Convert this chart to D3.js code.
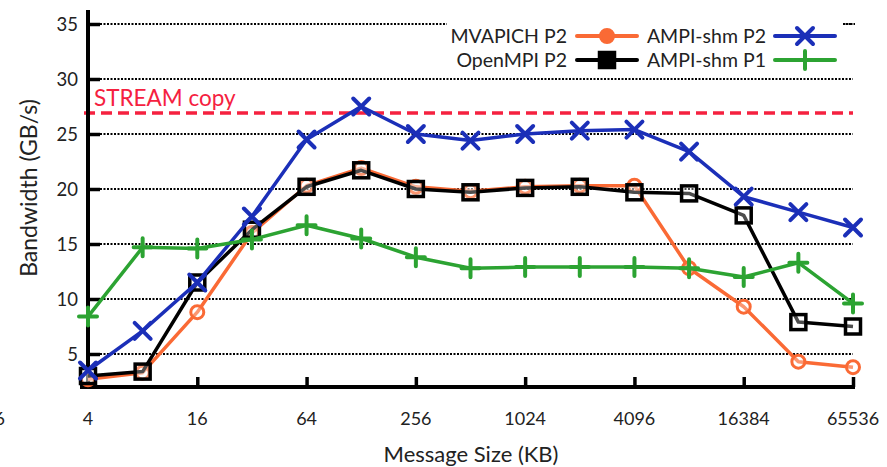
<!DOCTYPE html>
<html><head><meta charset="utf-8">
<script src="https://cdn.jsdelivr.net/npm/d3@7"></script>
<style>body{margin:0;background:#fff;} svg{display:block;font-family:Lato, "Open Sans", sans-serif;}</style>
</head><body>
<svg id="c" width="887" height="467"></svg>
<script>
const sizes = [4,8,16,32,64,128,256,512,1024,2048,4096,8192,16384,32768,65536];
const xTicks = [4,16,64,256,1024,4096,16384,65536];
const yTicks = [5,10,15,20,25,30,35];
const mvapichP2 = [2.7,3.3,8.8,16.0,20.3,21.9,20.2,19.8,20.2,20.3,20.3,12.8,9.3,4.3,3.8];
const openmpiP2 = [3.0,3.4,11.5,16.3,20.2,21.7,20.0,19.7,20.1,20.2,19.7,19.6,17.6,7.9,7.5];
const ampiP2 = [3.5,7.1,11.5,17.5,24.5,27.5,25.0,24.4,25.0,25.3,25.4,23.4,19.3,17.9,16.5];
const ampiP1 = [8.4,14.7,14.6,15.4,16.7,15.5,13.8,12.8,12.9,12.9,12.9,12.8,12.0,13.3,9.6];
const streamCopy = 26.9;

const svg = d3.select("#c");
const x = d3.scaleLog().base(2).domain([4,65536]).range([88,853]);
const y = d3.scaleLinear().domain([0,35]).range([409,24]);
const yBottom = 387, yTop = 10;

// grid
svg.append("g").selectAll("line").data(yTicks).join("line")
  .attr("x1",100).attr("x2",853).attr("y1",d=>y(d)).attr("y2",d=>y(d))
  .attr("stroke","#000").attr("stroke-width",2).attr("stroke-dasharray","2,1.5");

// stream copy line
svg.append("line").attr("x1",84).attr("x2",853).attr("y1",y(streamCopy)).attr("y2",y(streamCopy))
  .attr("stroke","#f5213f").attr("stroke-width",3.5).attr("stroke-dasharray","11,6");
svg.append("text").attr("x",94).attr("y",y(streamCopy)-7).text("STREAM copy")
  .attr("fill","#f5213f").attr("font-size",22.5);

// axes
const yAxis = svg.append("g").attr("transform","translate(88,0)")
  .call(d3.axisRight(y).tickValues(yTicks).tickSize(12).tickFormat(""));
yAxis.select(".domain").remove();
yAxis.selectAll("line").attr("stroke","#000").attr("stroke-width",3.5);
svg.append("g").selectAll("text").data(yTicks).join("text")
  .attr("x",78).attr("y",d=>y(d)+6.5).attr("text-anchor","end").attr("font-size",18.5).attr("fill","#222").text(d=>d);
svg.append("line").attr("x1",88).attr("x2",88).attr("y1",yTop).attr("y2",yBottom+2).attr("stroke","#000").attr("stroke-width",4);

const xAxis = svg.append("g").attr("transform",`translate(0,${yBottom})`)
  .call(d3.axisTop(x).tickValues(xTicks.slice(1)).tickSize(10).tickFormat(""));
xAxis.select(".domain").remove();
xAxis.selectAll("line").attr("stroke","#000").attr("stroke-width",3.5);
svg.append("line").attr("x1",80).attr("x2",855).attr("y1",yBottom).attr("y2",yBottom).attr("stroke","#000").attr("stroke-width",4);
svg.append("g").selectAll("text").data(xTicks).join("text")
  .attr("x",d=>x(d)).attr("y",425).attr("text-anchor","middle").attr("font-size",18).attr("fill","#222").text(d=>d);
svg.append("text").attr("x",5).attr("y",425).attr("text-anchor","end").attr("font-size",18).attr("fill","#222").text("6");

svg.append("text").attr("x",471).attr("y",462).attr("text-anchor","middle").attr("font-size",22).attr("fill","#222").text("Message Size (KB)");
svg.append("text").attr("transform","translate(37,188) rotate(-90)").attr("text-anchor","middle").attr("font-size",23).attr("fill","#222").text("Bandwidth (GB/s)");

// series
const series = [
  {name:"MVAPICH P2", vals:mvapichP2, color:"#fa6a35", marker:"circle"},
  {name:"OpenMPI P2", vals:openmpiP2, color:"#000000", marker:"square"},
  {name:"AMPI-shm P2", vals:ampiP2, color:"#1b2fb8", marker:"x"},
  {name:"AMPI-shm P1", vals:ampiP1, color:"#2ca332", marker:"plus"}
];
function drawMarker(g, type, color, filled){
  const fo = filled ? 1 : 0.3, fc = filled ? color : "#fff";
  if(type==="circle"){
    g.append("circle").attr("r",6.5).attr("fill",fc).attr("fill-opacity",fo).attr("stroke",color).attr("stroke-width",3);
  } else if(type==="square"){
    g.append("rect").attr("x",-7.5).attr("y",-7.5).attr("width",15).attr("height",15).attr("fill",fc).attr("fill-opacity",fo).attr("stroke",color).attr("stroke-width",3.5);
  } else if(type==="x"){
    g.append("path").attr("d","M-8,-8L8,8M-8,8L8,-8").attr("stroke",color).attr("stroke-width",4).attr("stroke-linecap","round");
  } else {
    g.append("path").attr("d","M-9,0L9,0M0,-9L0,9").attr("stroke",color).attr("stroke-width",4).attr("stroke-linecap","round");
  }
}
const line = d3.line().x((d,i)=>x(sizes[i])).y(d=>y(d));
series.forEach(s=>{
  svg.append("path").attr("d",line(s.vals)).attr("fill","none").attr("stroke",s.color).attr("stroke-width",3.5).attr("stroke-linejoin","round");
  s.vals.forEach((v,i)=>{
    const g = svg.append("g").attr("transform",`translate(${x(sizes[i])},${y(v)})`);
    drawMarker(g,s.marker,s.color,false);
  });
});

// legend
svg.append("rect").attr("x",447).attr("y",14).attr("width",396).attr("height",58).attr("fill","#fff");
const leg = [
  {s:series[0], lx:567, sx:577, row:0},
  {s:series[1], lx:567, sx:577, row:1},
  {s:series[2], lx:766, sx:775, row:0},
  {s:series[3], lx:766, sx:775, row:1}
];
leg.forEach(l=>{
  const cy = 36 + l.row*24;
  svg.append("text").attr("x",l.lx).attr("y",cy+7).attr("text-anchor","end").attr("font-size",19.5).attr("fill","#222").text(l.s.name);
  svg.append("line").attr("x1",l.sx).attr("x2",l.sx+60).attr("y1",cy).attr("y2",cy).attr("stroke",l.s.color).attr("stroke-width",4).attr("stroke-linecap","round");
  const g = svg.append("g").attr("transform",`translate(${l.sx+30},${cy})`);
  drawMarker(g,l.s.marker,l.s.color,true);
});
svg.append("line").attr("x1",843).attr("x2",855).attr("y1",y(35)).attr("y2",y(35))
  .attr("stroke","#000").attr("stroke-width",2).attr("stroke-dasharray","2,1.5");
</script>
</body></html>
